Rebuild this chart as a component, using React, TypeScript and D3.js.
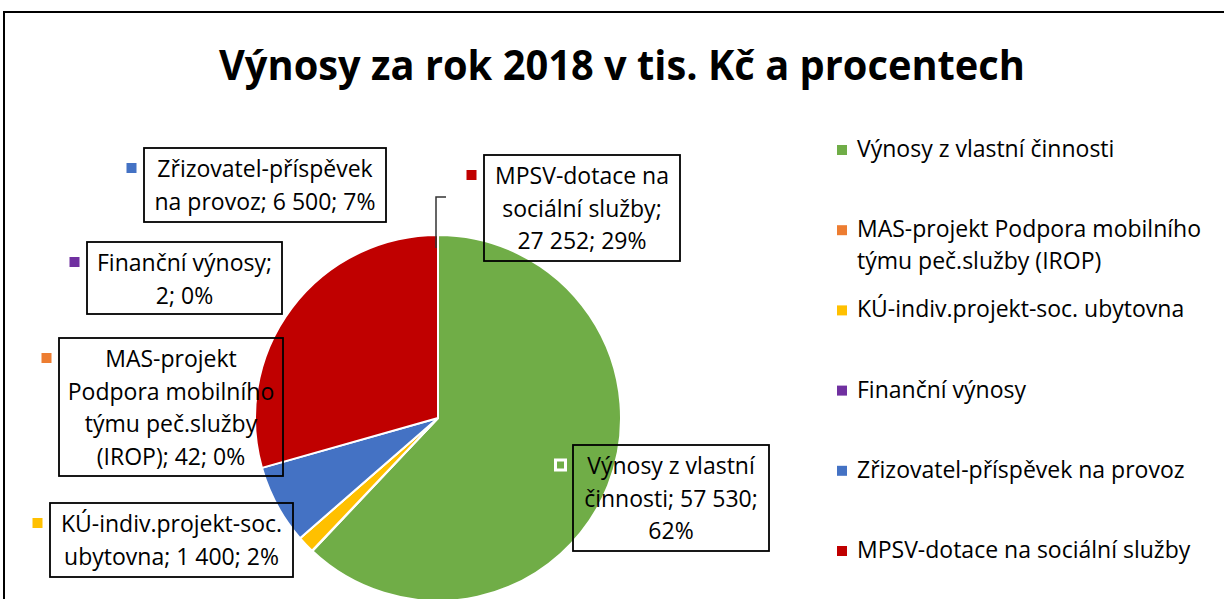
import React from 'react';
import * as d3 from 'd3';

const title = 'Výnosy za rok 2018 v tis. Kč a procentech';

const categories = [
  'Výnosy z vlastní činnosti',
  'MAS-projekt Podpora mobilního týmu peč.služby (IROP)',
  'KÚ-indiv.projekt-soc. ubytovna',
  'Finanční výnosy',
  'Zřizovatel-příspěvek na provoz',
  'MPSV-dotace na sociální služby',
];
const values = [57530, 42, 1400, 2, 6500, 27252];
const colors = ['#70AD47', '#ED7D31', '#FFC000', '#7030A0', '#4472C4', '#C00000'];

// how the data labels wrap ({v} = value, {p} = percent)
const labelLines = [
  ['Výnosy z vlastní', 'činnosti; {v};', '{p}'],
  ['MAS-projekt', 'Podpora mobilního', 'týmu peč.služby', '(IROP); {v}; {p}'],
  ['KÚ-indiv.projekt-soc.', 'ubytovna; {v}; {p}'],
  ['Finanční výnosy;', '{v}; {p}'],
  ['Zřizovatel-příspěvek', 'na provoz; {v}; {p}'],
  ['MPSV-dotace na', 'sociální služby;', '{v}; {p}'],
];
const legendLines = [
  ['Výnosy z vlastní činnosti'],
  ['MAS-projekt Podpora mobilního', 'týmu peč.služby (IROP)'],
  ['KÚ-indiv.projekt-soc. ubytovna'],
  ['Finanční výnosy'],
  ['Zřizovatel-příspěvek na provoz'],
  ['MPSV-dotace na sociální služby'],
];

// label box layout
const boxes = [
  { x: 573, y: 445, w: 196, h: 106 },
  { x: 59, y: 338, w: 224, h: 138 },
  { x: 50, y: 503, w: 243, h: 74 },
  { x: 87, y: 242, w: 195, h: 72 },
  { x: 144, y: 148, w: 242, h: 74 },
  { x: 484, y: 155, w: 196, h: 106 },
];

const W = 1224;
const H = 599;
const cx = 438;
const cy = 418;
const R = 183;
const font = '"Open Sans", sans-serif';

const fmt = d3.formatLocale({ decimal: ',', thousands: ' ', grouping: [3], currency: ['', ''] }).format(',');

export default function App() {
  const total = d3.sum(values);
  const pie = d3.pie<number>().sort(null).value(d => d)(values);
  const arc = d3.arc<d3.PieArcDatum<number>>().innerRadius(0).outerRadius(R);

  return (
    <svg width={W} height={H} style={{ position: 'absolute', left: 0, top: 0, background: '#fff' }} fontFamily={font}>
      <rect x={4} y={12} width={W + 20} height={H + 20} fill="#fff" stroke="#000" strokeWidth={2} />
      <text x={622} y={80} textAnchor="middle" fontSize={42} fontWeight="bold" textLength={806} lengthAdjust="spacingAndGlyphs">
        {title}
      </text>

      <g transform={`translate(${cx},${cy})`}>
        {pie.map((d, i) => (
          <path key={i} d={arc(d) || ''} fill={colors[i]} stroke="#fff" strokeWidth={2} strokeLinejoin="round" />
        ))}
      </g>

      {/* leader line */}
      <path d="M446,197H436V248" fill="none" stroke="#333" strokeWidth={1.5} />

      {boxes.map((b, i) => {
        const pct = Math.round((values[i] / total) * 100) + '%';
        const lines = labelLines[i].map(s => s.replace('{v}', fmt(values[i])).replace('{p}', pct));
        return (
          <g key={i}>
            <rect x={b.x} y={b.y} width={b.w} height={b.h} fill="none" stroke="#000" strokeWidth={1.8} />
            <rect x={b.x - 17.5} y={b.y + 15} width={10} height={10} fill={colors[i]}
              stroke={i === 0 ? '#fff' : 'none'} strokeWidth={3} />
            {lines.map((s, j) => (
              <text key={j} x={b.x + b.w / 2} y={b.y + 29 + j * 32.5} textAnchor="middle" fontSize={23} fill="#000">
                {s}
              </text>
            ))}
          </g>
        );
      })}

      {legendLines.map((ls, i) => {
        const y = 157 + i * 80.2;
        return (
          <g key={i}>
            <rect x={837} y={y - 12} width={10} height={10} fill={colors[i]} />
            {ls.map((s, j) => (
              <text key={j} x={857} y={y + j * 32} fontSize={23} fill="#000">{s}</text>
            ))}
          </g>
        );
      })}
    </svg>
  );
}
